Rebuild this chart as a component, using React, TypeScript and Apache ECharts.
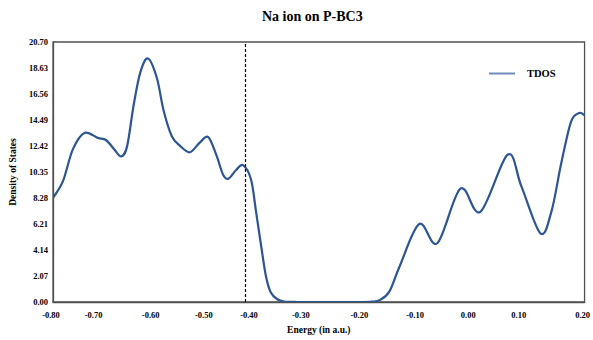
import React, { useEffect, useRef } from "react";
import * as echarts from "echarts";

// x positions are sample indices (0..200) of the original category axis; energy labels sit at tickPos
const tickPos = [0, 16, 37.5, 57.5, 74.5, 94, 116, 137, 157, 176, 200];
const tickLabels = ["-0.80", "-0.70", "-0.60", "-0.50", "-0.40", "-0.30", "-0.20", "-0.10", "0.00", "0.10", "0.20"];

const samplePos = [
  0, 3.7, 7.45, 11.8, 16.8, 19.9, 23, 25.7, 27.9, 30.4, 32.9, 35.75, 39.1, 41.6, 44.7, 47.8,
  51.5, 55.2, 58.4, 61.5, 64, 66, 68.9, 71.5, 74.5, 76.4, 78.2, 80.1, 81.9, 84.4, 86.9,
  92, 100, 108, 116, 120, 122.9, 126.6, 130.4, 137.8, 144.6, 153.3, 160.8,
  171.1, 176.2, 183.4, 187.5, 191.2, 194.9, 198, 200,
];
const tdos = [
  8.3, 9.6, 12.15, 13.46, 13.07, 12.9, 12.17, 11.59, 12.43, 15.76, 18.32, 19.38, 17.81, 15.25, 13.2, 12.43,
  11.92, 12.69, 13.13, 11.67, 10.13, 9.82, 10.51, 10.9, 9.75, 7.18, 4.62, 2.07, 0.78, 0.22, 0.04,
  0, 0, 0, 0, 0.03, 0.15, 0.85, 2.83, 6.21, 4.68, 9.02, 7.18,
  11.74, 9.23, 5.47, 7.18, 11.02, 14.35, 15.05, 14.86,
];
const fermiPos = 72.3;

const yTicks = { min: 0, max: 20.7, step: 2.07 };

const FONT = "'Liberation Serif', 'Times New Roman', serif";
const LINE = "#2c5592";

export default function App() {
  const ref = useRef<HTMLDivElement>(null);
  useEffect(() => {
    if (!ref.current) return;
    const chart = echarts.init(ref.current, null, { renderer: "svg" });
    const data = samplePos.map((p, i) => [p, tdos[i]]);

    // Catmull-Rom spline through the data points, positioned by the chart's own axes (api.coord)
    const renderItem = (params: any, api: any) => {
      if (params.dataIndex !== 0) return null;
      const pts = data.map((d) => api.coord(d));
      let d = `M${pts[0][0]},${pts[0][1]}`;
      for (let i = 0; i < pts.length - 1; i++) {
        const p0 = pts[i - 1] || pts[i];
        const p1 = pts[i];
        const p2 = pts[i + 1];
        const p3 = pts[i + 2] || pts[i + 1];
        const c1x = p1[0] + (p2[0] - p0[0]) / 6;
        const c1y = p1[1] + (p2[1] - p0[1]) / 6;
        const c2x = p2[0] - (p3[0] - p1[0]) / 6;
        const c2y = p2[1] - (p3[1] - p1[1]) / 6;
        d += ` C${c1x},${c1y} ${c2x},${c2y} ${p2[0]},${p2[1]}`;
      }
      return {
        type: "path",
        shape: { pathData: d },
        style: { fill: "none", stroke: LINE, lineWidth: 2.2, lineJoin: "round" },
      };
    };

    chart.setOption({
      animation: false,
      backgroundColor: "#fff",
      title: {
        text: "Na ion on P-BC3",
        left: 262,
        top: 9,
        padding: 0,
        textStyle: { fontFamily: FONT, fontWeight: "bold", fontSize: 14, color: "#000" },
      },
      legend: {
        left: 484,
        top: 63,
        itemWidth: 26,
        itemHeight: 2,
        data: [{ name: "TDOS", icon: "rect", itemStyle: { color: "#6f8dbb" } }],
        textStyle: { fontFamily: FONT, fontWeight: "bold", fontSize: 10.5, color: "#000", padding: [0, 0, 0, 7] },
      },
      grid: {
        left: 50,
        right: 6,
        top: 42,
        bottom: 31,
        show: true,
        borderColor: "#505050",
        borderWidth: 1.3,
        containLabel: false,
      },
      xAxis: {
        type: "value",
        min: 0,
        max: 200,
        name: "Energy (in a.u.)",
        nameLocation: "middle",
        nameGap: 23,
        nameTextStyle: { fontFamily: FONT, fontWeight: "bold", fontSize: 9.5, color: "#000" },
        axisLine: { show: true, lineStyle: { color: "#505050", width: 1.3 } },
        axisTick: { show: false },
        splitLine: { show: false },
        axisLabel: {
          customValues: tickPos,
          margin: 8,
          padding: [0, 4, 0, 0],
          fontFamily: FONT,
          fontWeight: "bold",
          fontSize: 8.5,
          color: "#000",
          formatter: (v: number) => {
            const i = tickPos.indexOf(v);
            return i >= 0 ? tickLabels[i] : "";
          },
        },
      },
      yAxis: {
        type: "value",
        min: yTicks.min,
        max: yTicks.max,
        interval: yTicks.step,
        name: "Density of States",
        nameLocation: "middle",
        nameGap: 32,
        nameTextStyle: { fontFamily: FONT, fontWeight: "bold", fontSize: 9.5, color: "#000" },
        axisLine: { show: true, lineStyle: { color: "#505050", width: 1.3 } },
        axisTick: { show: false },
        splitLine: { show: false },
        axisLabel: {
          margin: 5,
          padding: [2, 0, 0, 0],
          fontFamily: FONT,
          fontWeight: "bold",
          fontSize: 8.5,
          color: "#000",
          formatter: (v: number) => v.toFixed(2),
        },
      },
      series: [
        {
          name: "TDOS",
          type: "custom",
          data,
          encode: { x: 0, y: 1 },
          renderItem,
          clip: true,
          itemStyle: { color: LINE },
          markLine: {
            silent: true,
            symbol: "none",
            label: { show: false },
            lineStyle: { color: "#000", type: [3, 2], width: 1.2 },
            data: [{ xAxis: fermiPos }],
          },
        },
      ],
    });
    return () => chart.dispose();
  }, []);
  return <div ref={ref} style={{ position: "fixed", left: 0, top: 0, width: 593, height: 340 }} />;
}
